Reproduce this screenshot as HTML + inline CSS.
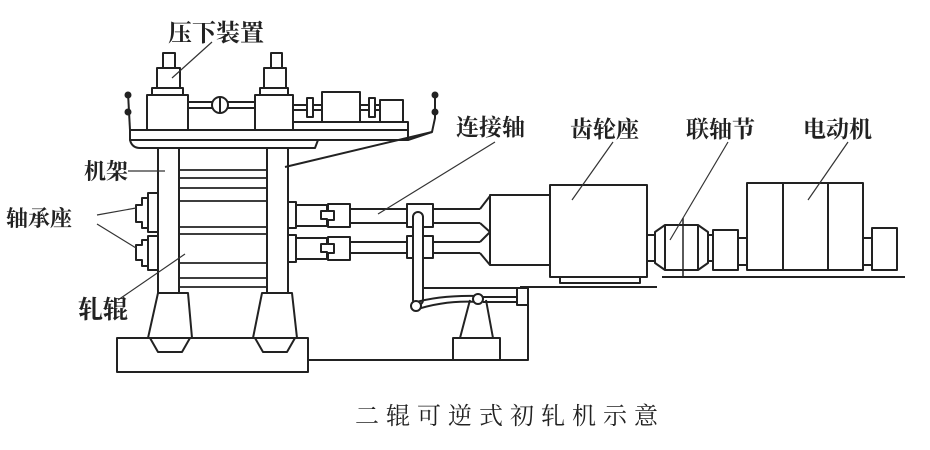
<!DOCTYPE html>
<html><head><meta charset="utf-8"><style>
html,body{margin:0;padding:0;background:#fff;width:930px;height:450px;overflow:hidden}
text{font-family:"Liberation Serif","Noto Serif CJK SC",serif;fill:#222}
</style></head><body>
<svg width="930" height="450" viewBox="0 0 930 450" xmlns="http://www.w3.org/2000/svg">
<g fill="none" stroke="#222" stroke-width="2" stroke-linejoin="round">
<rect x="147" y="95" width="41" height="35"/>
<rect x="152" y="88" width="31" height="7"/>
<rect x="157" y="68" width="23" height="20"/>
<rect x="163" y="53" width="12" height="15"/>
<rect x="255" y="95" width="38" height="35"/>
<rect x="260" y="88" width="28" height="7"/>
<rect x="264" y="68" width="22" height="20"/>
<rect x="271" y="53" width="11" height="15"/>
<rect x="188" y="102" width="67" height="6"/>
<circle cx="220" cy="105" r="8" fill="#fff"/>
<line x1="220" y1="97" x2="220" y2="113"/>
<rect x="293" y="122" width="115" height="8"/>
<rect x="293" y="105" width="29" height="5"/>
<rect x="307" y="98" width="6" height="19" fill="#fff"/>
<rect x="322" y="92" width="38" height="30"/>
<rect x="360" y="105" width="20" height="5"/>
<rect x="369" y="98" width="6" height="19" fill="#fff"/>
<rect x="380" y="100" width="23" height="22"/>
<rect x="130" y="130" width="278" height="10"/>
<path d="M130 140 Q132 148 140 148 L315 148 L318 140"/>
<path d="M408 140 L432 132 L435 118 L435 93"/>
<path d="M432 132 L285 167"/>
<path d="M130 130 L128 93"/>
<circle cx="128" cy="95" r="2.5" fill="#222"/><circle cx="128" cy="112" r="2.5" fill="#222"/>
<circle cx="435" cy="95" r="2.5" fill="#222"/><circle cx="435" cy="112" r="2.5" fill="#222"/>
<rect x="158" y="148" width="21" height="145"/>
<rect x="267" y="148" width="21" height="145"/>
<g stroke-width="1.8">
<line x1="179" y1="170" x2="267" y2="170"/><line x1="179" y1="178" x2="267" y2="178"/>
<line x1="179" y1="188" x2="267" y2="188"/><line x1="179" y1="201" x2="267" y2="201"/>
<line x1="179" y1="227" x2="267" y2="227"/><line x1="179" y1="234" x2="267" y2="234"/>
<line x1="179" y1="263" x2="267" y2="263"/><line x1="179" y1="278" x2="267" y2="278"/>
<line x1="179" y1="287" x2="267" y2="287"/>
</g>
<path d="M158 193 L148 193 L148 198 L142 198 L142 205 L136 205 L136 222 L142 222 L142 228 L148 228 L148 232 L158 232"/>
<path d="M158 236 L148 236 L148 240 L142 240 L142 245 L136 245 L136 260 L142 260 L142 266 L148 266 L148 270 L158 270"/>
<line x1="148" y1="198" x2="148" y2="228"/><line x1="148" y1="240" x2="148" y2="266"/>
<rect x="288" y="202" width="8" height="26"/><rect x="288" y="235" width="8" height="27"/>
<path d="M296 205 L327 205 L327 211 L321 211 L321 219 L327 219 L327 226 L296 226 Z"/>
<path d="M328 204 L350 204 L350 227 L328 227 L328 220 L334 220 L334 211 L328 211 Z"/>
<path d="M296 238 L327 238 L327 244 L321 244 L321 252 L327 252 L327 259 L296 259 Z"/>
<path d="M328 237 L350 237 L350 260 L328 260 L328 253 L334 253 L334 244 L328 244 Z"/>
<line x1="350" y1="209" x2="407" y2="209"/><line x1="350" y1="223" x2="407" y2="223"/>
<line x1="350" y1="242" x2="407" y2="242"/><line x1="350" y1="253" x2="407" y2="253"/>
<rect x="407" y="204" width="26" height="23"/><rect x="407" y="236" width="26" height="22"/>
<line x1="433" y1="209" x2="480" y2="209"/><line x1="433" y1="223" x2="480" y2="223"/>
<line x1="433" y1="242" x2="480" y2="242"/><line x1="433" y1="253" x2="480" y2="253"/>
<path d="M480 209 L490 196 M480 223 L490 232 L480 242 M480 253 L490 265"/>
<rect x="413" y="212" width="10" height="93" rx="5" fill="#fff"/>
<path d="M413 303 Q440 295 478 296 M415 310 Q445 300 478 302"/>
<circle cx="416" cy="306" r="5" fill="#fff"/>
<circle cx="478" cy="299" r="5" fill="#fff"/>
<line x1="483" y1="297" x2="517" y2="297"/><line x1="483" y1="302" x2="517" y2="302"/>
<rect x="517" y="288" width="11" height="17"/>
<path d="M470 300 L460 338 M486 300 L493 338"/>
<rect x="453" y="338" width="47" height="22"/>
<path d="M423 288 L528 288 L528 360 L308 360"/>
<path d="M158 293 L188 293 L192 338 L148 338 Z"/>
<path d="M262 293 L292 293 L297 338 L253 338 Z"/>
<rect x="117" y="338" width="191" height="34"/>
<path d="M150 338 L158 352 L182 352 L190 338"/>
<path d="M255 338 L263 352 L287 352 L295 338"/>
<rect x="490" y="195" width="60" height="70"/>
<rect x="550" y="185" width="97" height="92"/>
<rect x="560" y="277" width="80" height="6"/>
<line x1="520" y1="287" x2="657" y2="287"/>
<rect x="647" y="235" width="8" height="26"/>
<path d="M655 232 L665 225 L698 225 L708 232 L708 263 L698 270 L665 270 L655 263 Z"/>
<line x1="665" y1="225" x2="665" y2="270"/><line x1="698" y1="225" x2="698" y2="270"/>
<line x1="683" y1="218" x2="683" y2="276" stroke-width="1.5"/>
<rect x="708" y="235" width="5" height="26"/>
<rect x="713" y="230" width="25" height="40"/>
<rect x="738" y="238" width="9" height="27"/>
<rect x="747" y="183" width="116" height="87"/>
<line x1="783" y1="183" x2="783" y2="270"/><line x1="828" y1="183" x2="828" y2="270"/>
<rect x="863" y="238" width="9" height="27"/>
<rect x="872" y="228" width="25" height="42"/>
<line x1="662" y1="277" x2="905" y2="277"/>
</g>
<g stroke="#333" stroke-width="1.2" fill="none">
<path d="M212 42 L172 78"/>
<path d="M128 171 L165 171"/>
<path d="M97 215 L136 208 M97 224 L136 248"/>
<path d="M118 300 L185 254"/>
<path d="M495 142 L378 214"/>
<path d="M613 142 L572 200"/>
<path d="M728 142 L670 240"/>
<path d="M848 142 L808 200"/>
</g>
<g font-weight="bold">
<text x="168" y="41" font-size="24">压下装置</text>
<text x="84" y="179" font-size="22">机架</text>
<text x="6" y="226" font-size="22">轴承座</text>
<text x="78" y="318" font-size="25">轧辊</text>
<text x="456" y="135" font-size="23">连接轴</text>
<text x="570" y="137" font-size="23">齿轮座</text>
<text x="686" y="137" font-size="23">联轴节</text>
<text x="803" y="137" font-size="23">电动机</text>
</g>
<text x="355" y="424" font-size="24" letter-spacing="7">二辊可逆式初轧机示意</text>
</svg>
</body></html>
